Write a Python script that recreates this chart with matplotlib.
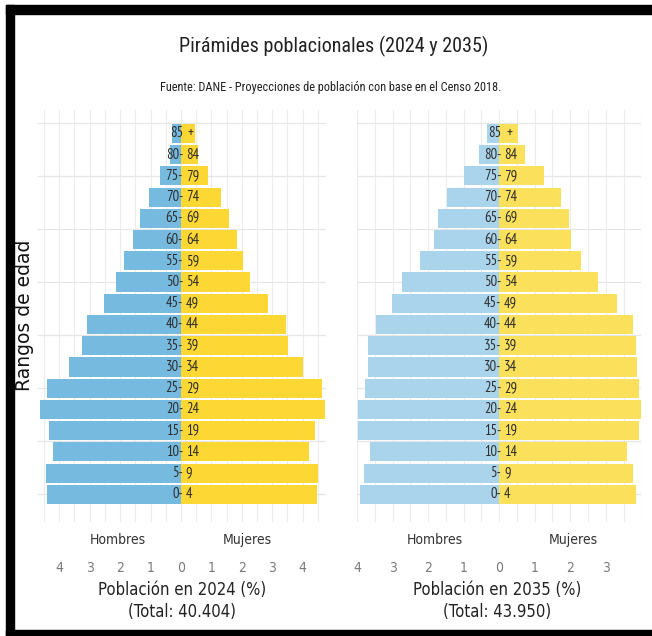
import matplotlib
matplotlib.use("Agg")
import matplotlib.pyplot as plt
from matplotlib.patches import Rectangle
import matplotlib.transforms as mtransforms
import numpy as np

# grupos de edad, de 0-4 (abajo) a 85+ (arriba)
edad_ini = ["0", "5", "10", "15", "20", "25", "30", "35", "40", "45",
            "50", "55", "60", "65", "70", "75", "80", "85"]
edad_fin = ["4", "9", "14", "19", "24", "29", "34", "39", "44", "49",
            "54", "59", "64", "69", "74", "79", "84", "+"]

# porcentajes
hombres_2024 = [4.40, 4.44, 4.22, 4.35, 4.64, 4.40, 3.68, 3.25, 3.10, 2.53,
                2.12, 1.87, 1.57, 1.35, 1.06, 0.69, 0.36, 0.31]
mujeres_2024 = [4.46, 4.51, 4.22, 4.42, 4.73, 4.64, 4.00, 3.53, 3.45, 2.86,
                2.27, 2.03, 1.85, 1.59, 1.31, 0.89, 0.55, 0.45]
hombres_2035 = [3.91, 3.81, 3.64, 3.96, 3.96, 3.77, 3.70, 3.68, 3.46, 3.01,
                2.72, 2.22, 1.83, 1.71, 1.47, 0.98, 0.56, 0.35]
mujeres_2035 = [3.86, 3.76, 3.59, 3.94, 4.00, 3.94, 3.87, 3.85, 3.77, 3.32,
                2.78, 2.29, 2.03, 1.97, 1.75, 1.26, 0.73, 0.54]

anios = ["2024", "2035"]
totales = ["40.404", "43.950"]
ticks_izq = [-4, -3, -2, -1, 0, 1, 2, 3, 4]
ticks_der = [-4, -3, -2, -1, 0, 1, 2, 3]

TITULO = ["Roboto Condensed", "DejaVu Sans"]
EDADES = ["PT Sans Narrow", "DejaVu Sans"]

W, H = 652, 636
fig = plt.figure(figsize=(W / 100, H / 100), dpi=100)
fig.patch.set_facecolor("white")


def px_axes(x0, y0, x1, y1):
    # caja en pixeles (origen arriba a la izquierda)
    return fig.add_axes([x0 / W, 1 - y1 / H, (x1 - x0) / W, (y1 - y0) / H])


ax1 = px_axes(38, 110, 326, 522)
ax2 = px_axes(357, 110, 641, 522)

paneles = [
    (ax1, hombres_2024, mujeres_2024, "#76badf", "#fdd835", (-4.70, 4.77), ticks_izq, -2.07, 2.17),
    (ax2, hombres_2035, mujeres_2035, "#a9d4ec", "#fbe05c", (-3.97, 3.99), ticks_der, -1.8, 2.08),
]

y = np.arange(len(edad_ini))
for ax, hom, muj, c_h, c_m, xl, tk, xh, xm in paneles:
    ax.set_facecolor("white")
    ax.set_xlim(*xl)
    ax.set_ylim(-1.3, 18.1)
    for xv in np.arange(-5, 5.01, 0.5):
        ax.axvline(xv, color="#ececec", lw=0.8, zorder=0)
    for yv in np.arange(0, 18, 2.5):
        ax.axhline(yv, color="#e6e6e6", lw=0.9, zorder=0)
    ax.barh(y, -np.array(hom), height=0.9, color=c_h, zorder=2, linewidth=0)
    ax.barh(y, muj, height=0.9, color=c_m, zorder=2, linewidth=0)
    for i in range(len(y)):
        ax.annotate(edad_ini[i] + ("-" if edad_fin[i] != "+" else ""), xy=(0, y[i]),
                    xytext=(1.5, 0), textcoords="offset points", ha="right", va="center",
                    fontsize=10.5, family=EDADES, weight="normal", color="#2e2e2e", zorder=3)
        ax.annotate(edad_fin[i], xy=(0, y[i]), xytext=(3.5 if edad_fin[i] != "+" else 5, 0),
                    textcoords="offset points", ha="left", va="center",
                    fontsize=10.5, family=EDADES, weight="normal", color="#2e2e2e", zorder=3)
    ax.set_xticks(tk)
    ax.set_xticklabels([str(abs(t)) for t in tk], fontstretch="condensed")
    ax.tick_params(axis="x", length=0, pad=28, labelsize=10, labelcolor="#7a7a7a")
    ax.set_yticks([])
    for s in ax.spines.values():
        s.set_visible(False)
    trans = mtransforms.blended_transform_factory(ax.transData, ax.transAxes)
    ax.text(xh, -0.044, "Hombres", transform=trans, ha="center", va="center",
            fontsize=10, fontstretch="condensed", color="#333333")
    ax.text(xm, -0.044, "Mujeres", transform=trans, ha="center", va="center",
            fontsize=10, fontstretch="condensed", color="#333333")

# etiquetas inferiores
for xc, an, tot in [(182, anios[0], totales[0]), (497, anios[1], totales[1])]:
    fig.text(xc / W, 1 - 590 / H, f"Población en {an} (%)", ha="center", va="center",
             fontsize=12, fontstretch="condensed", color="#222222")
    fig.text(xc / W, 1 - 612 / H, f"(Total: {tot})", ha="center", va="center",
             fontsize=12, fontstretch="condensed", color="#222222")

fig.text(25 / W, 1 - 315 / H, "Rangos de edad", rotation=90, ha="center", va="center",
         fontsize=13.5, color="#111111")

fig.text(334 / W, 1 - 46 / H, "Pirámides poblacionales (2024 y 2035)", ha="center",
         va="center", fontsize=14.5, family=TITULO, color="#222222")
fig.text(331 / W, 1 - 88 / H, "Fuente: DANE - Proyecciones de población con base en el Censo 2018.",
         ha="center", va="center", fontsize=8.8, family=TITULO, color="#222222")

# marco negro (arriba, izquierda, abajo)
for (x0, y0, w, h) in [(6, 5, W - 6, 9), (6, 5, 8, H - 5), (6, 630, W - 6, 6)]:
    fig.add_artist(Rectangle((x0 / W, 1 - (y0 + h) / H), w / W, h / H,
                             transform=fig.transFigure, color="black", zorder=10))

fig.savefig("out.png", dpi=100, facecolor="white")
